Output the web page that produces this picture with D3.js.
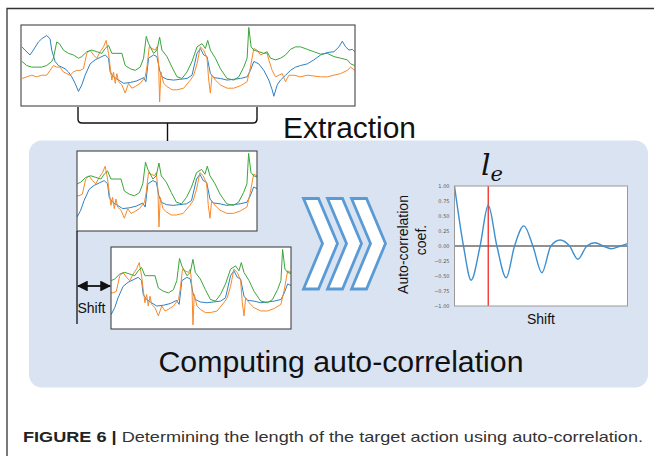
<!DOCTYPE html>
<html>
<head>
<meta charset="utf-8">
<script src="https://cdn.jsdelivr.net/npm/d3@7"></script>
<style>
  body { margin: 0; background: #fff; }
  svg { display: block; font-family: "Liberation Sans", Arial, sans-serif; }
</style>
</head>
<body>
<svg id="fig" width="654" height="456"></svg>
<script>
// sensor traces: [sample, value]
const blueSeries = [[3,73],[12,69],[27,63],[37,69],[52,79],[62,83],[77,87],[87,83],[92,69],[102,55],[112,50],[122,48],[132,46],[142,42],[152,36],[162,28],[172,18],[182,26],[192,38],[207,52],[222,57],[237,60],[252,63],[262,59],[267,42],[277,36],[292,32],[307,28],[327,29],[347,31],[367,35],[374,30],[382,59],[397,63],[407,61],[415,44],[422,36],[437,33],[457,32],[477,33],[497,34],[512,38],[527,65],[537,71],[547,63],[557,61],[567,40],[577,35],[597,34],[617,32],[637,33],[657,34],[677,36],[687,44],[697,55],[712,52],[727,44],[742,32],[752,20],[757,12],[767,26],[777,32],[792,38],[807,44],[822,48],[837,50],[857,52],[877,57],[897,63],[917,66],[937,67],[952,73],[962,80],[972,73],[982,69],[992,70],[999,67]]
const orangeSeries = [[3,34],[17,36],[32,38],[47,36],[62,38],[77,38],[87,44],[97,50],[107,48],[117,48],[127,42],[137,40],[147,38],[157,42],[167,44],[177,44],[187,46],[197,65],[207,69],[217,63],[227,59],[237,67],[247,73],[255,81],[262,65],[267,48],[272,32],[277,42],[282,28],[287,40],[292,30],[302,26],[312,16],[322,28],[332,22],[342,24],[357,28],[372,36],[377,48],[384,73],[392,71],[402,69],[407,73],[412,52],[415,5],[419,42],[427,28],[437,24],[452,20],[467,20],[487,22],[507,32],[517,38],[527,52],[537,73],[547,69],[557,59],[562,32],[567,16],[572,38],[582,32],[597,26],[617,22],[637,22],[657,25],[677,30],[687,48],[697,71],[707,69],[717,63],[727,65],[737,65],[742,57],[752,44],[762,36],[772,38],[782,40],[792,30],[802,38],[817,38],[837,36],[857,38],[877,37],[897,36],[917,36],[937,38],[957,40],[977,44],[987,48],[999,44]]
const greenSeries = [[3,55],[17,50],[32,48],[47,48],[62,48],[77,50],[92,55],[97,59],[107,79],[115,77],[127,69],[142,65],[157,63],[172,59],[182,61],[197,67],[212,69],[227,67],[242,65],[252,71],[262,75],[272,65],[287,65],[302,65],[312,50],[327,46],[342,44],[357,48],[367,59],[375,86],[382,77],[397,65],[407,69],[415,85],[422,69],[437,61],[452,48],[467,36],[482,34],[497,42],[512,55],[527,73],[542,77],[552,71],[559,81],[567,69],[582,59],[597,46],[617,34],[637,32],[652,36],[667,48],[677,59],[682,97],[689,73],[697,69],[712,67],[727,65],[737,67],[747,59],[762,57],[777,59],[792,63],[807,70],[822,73],[837,73],[857,70],[877,67],[897,64],[917,65],[937,61],[957,59],[977,57],[987,52],[999,50]]

const fullRange = [0, 1000]
const extractRange = [171, 707]

// auto-correlation curve: lag, coefficient
const lags = [0, 5.2, 9.6, 14.8, 19.5, 24.5, 29.9, 34.7, 40.1, 45.3, 50.5, 55.7, 61.1, 66.5, 71.3, 76.5, 81.3, 86, 90.6, 95.8, 100]
const coefs = [1.0, 0, -0.57, 0, 0.68, 0, -0.53, 0, 0.335, 0, -0.445, 0, 0.10, 0, -0.22, 0, 0.055, 0, -0.045, 0, 0.04]
const peakLag = 19.5
const yTicks = [1, 0.75, 0.5, 0.25, 0, -0.25, -0.5, -0.75, -1]

const colors = { blue: "#2f80c4", orange: "#f8892a", green: "#3aa63a" }
const series = [
  { name: "blue", data: blueSeries },
  { name: "orange", data: orangeSeries },
  { name: "green", data: greenSeries }
]

const svg = d3.select("#fig")

// outer frame
svg.append("path")
  .attr("d", "M7,456 V8.5 H654")
  .attr("fill", "none")
  .attr("stroke", "#333")
  .attr("stroke-width", 1.3)

// blue panel
svg.append("rect")
  .attr("x", 29).attr("y", 140.5)
  .attr("width", 619).attr("height", 247)
  .attr("rx", 13)
  .attr("fill", "#dae3f2")

let clipId = 0
function signalBox(x, y, w, h, domain) {
  const id = "clip" + (clipId++)
  svg.append("clipPath").attr("id", id)
    .append("rect").attr("x", x).attr("y", y).attr("width", w).attr("height", h)
  svg.append("rect")
    .attr("x", x).attr("y", y).attr("width", w).attr("height", h)
    .attr("fill", "#fff")
  const sx = d3.scaleLinear().domain(domain).range([x, x + w])
  const sy = d3.scaleLinear().domain([0, 100]).range([y + h, y])
  const line = d3.line().x(d => sx(d[0])).y(d => sy(d[1])).curve(d3.curveLinear)
  const g = svg.append("g").attr("clip-path", "url(#" + id + ")")
  series.forEach(s => {
    g.append("path")
      .attr("d", line(s.data))
      .attr("fill", "none")
      .attr("stroke", colors[s.name])
      .attr("stroke-width", 1)
      .attr("stroke-linejoin", "round")
  })
  svg.append("rect")
    .attr("x", x).attr("y", y).attr("width", w).attr("height", h)
    .attr("fill", "none")
    .attr("stroke", "#444")
    .attr("stroke-width", 1.1)
}

signalBox(21, 25, 334, 81, fullRange)

// bracket under the top trace
svg.append("path")
  .attr("d", "M78,107 V119 Q78,123 82,123 H253 Q257,123 257,119 V107 M167.5,123 V141")
  .attr("fill", "none")
  .attr("stroke", "#111")
  .attr("stroke-width", 1.4)

svg.append("text")
  .attr("x", 283).attr("y", 138.3)
  .attr("font-size", 30)
  .attr("textLength", 133)
  .attr("lengthAdjust", "spacingAndGlyphs")
  .attr("fill", "#111")
  .text("Extraction")

signalBox(77, 151, 180, 80, extractRange)
signalBox(111, 247, 180, 82, extractRange)

// shift marker
svg.append("line")
  .attr("x1", 77).attr("x2", 77).attr("y1", 231).attr("y2", 324)
  .attr("stroke", "#111").attr("stroke-width", 1.3)
const defs = svg.append("defs")
defs.append("marker")
  .attr("id", "ah").attr("viewBox", "0 0 10 10")
  .attr("refX", 9).attr("refY", 5)
  .attr("markerWidth", 6).attr("markerHeight", 6)
  .attr("orient", "auto-start-reverse")
  .append("path").attr("d", "M0,0 L10,5 L0,10 z").attr("fill", "#111")
svg.append("line")
  .attr("x1", 78).attr("x2", 110).attr("y1", 286).attr("y2", 286)
  .attr("stroke", "#111").attr("stroke-width", 1.8)
  .attr("marker-start", "url(#ah)").attr("marker-end", "url(#ah)")
svg.append("text")
  .attr("x", 77.5).attr("y", 312.5)
  .attr("font-size", 14)
  .attr("fill", "#111")
  .text("Shift")

// chevrons
d3.range(3).forEach(i => {
  const x0 = 303.5 + 24 * i, top = 198.5, bot = 289, mid = 243.5
  svg.append("polygon")
    .attr("points", [[x0, top], [x0 + 15, top], [x0 + 34, mid], [x0 + 15, bot], [x0, bot], [x0 + 19, mid]].join(" "))
    .attr("fill", "#fff")
    .attr("stroke", "#5b9bd5")
    .attr("stroke-width", 2.8)
})

// auto-correlation plot
const px0 = 454.5, px1 = 627.5, py0 = 186, py1 = 306
const ax = d3.scaleLinear().domain([0, 100]).range([px0, px1])
const ay = d3.scaleLinear().domain([-1, 1]).range([py1, py0])

svg.append("rect")
  .attr("x", px0).attr("y", py0).attr("width", px1 - px0).attr("height", py1 - py0)
  .attr("fill", "#fff")

const yAxis = svg.append("g")
  .attr("transform", `translate(${px0},0)`)
  .call(d3.axisLeft(ay).tickValues(yTicks).tickSize(0).tickPadding(5).tickFormat(d3.format(".2f")))
yAxis.select(".domain").remove()
yAxis.selectAll("text").attr("font-size", 5).attr("fill", "#555").attr("font-family", "DejaVu Sans")

svg.append("line")
  .attr("x1", px0).attr("x2", px1).attr("y1", ay(0)).attr("y2", ay(0))
  .attr("stroke", "#222").attr("stroke-width", 1)

svg.append("line")
  .attr("x1", ax(peakLag)).attr("x2", ax(peakLag)).attr("y1", py0).attr("y2", py1)
  .attr("stroke", "#ee2a24").attr("stroke-width", 1.3)

const acLine = d3.line()
  .x((d, i) => ax(lags[i]))
  .y(d => ay(d))
  .curve(d3.curveMonotoneX)
svg.append("path")
  .attr("d", acLine(coefs))
  .attr("fill", "none")
  .attr("stroke", "#3d8fcf")
  .attr("stroke-width", 1.4)

svg.append("rect")
  .attr("x", px0).attr("y", py0).attr("width", px1 - px0).attr("height", py1 - py0)
  .attr("fill", "none")
  .attr("stroke", "#9a9a9a")
  .attr("stroke-width", 1)

const le = svg.append("text")
  .attr("x", 481).attr("y", 175)
  .attr("font-family", "DejaVu Serif")
  .attr("font-style", "italic")
  .attr("fill", "#111")
le.append("tspan").attr("font-size", 30).text("l")
le.append("tspan").attr("font-size", 21).attr("dy", 6).text("e")

svg.append("text")
  .attr("transform", "translate(407.5,244.5) rotate(-90)")
  .attr("text-anchor", "middle")
  .attr("font-size", 14)
  .attr("fill", "#111")
  .text("Auto-correlation")
svg.append("text")
  .attr("transform", "translate(425.5,240) rotate(-90)")
  .attr("text-anchor", "middle")
  .attr("font-size", 14)
  .attr("fill", "#111")
  .text("coef.")

svg.append("text")
  .attr("x", 541).attr("y", 323.5)
  .attr("text-anchor", "middle")
  .attr("font-size", 14)
  .attr("fill", "#111")
  .text("Shift")

svg.append("text")
  .attr("x", 341).attr("y", 372)
  .attr("text-anchor", "middle")
  .attr("font-size", 30)
  .attr("textLength", 365)
  .attr("lengthAdjust", "spacingAndGlyphs")
  .attr("fill", "#111")
  .text("Computing auto-correlation")

// caption
const cap = svg.append("text")
  .attr("x", 23).attr("y", 442)
  .attr("font-size", 14.5)
  .attr("textLength", 620)
  .attr("lengthAdjust", "spacingAndGlyphs")
cap.append("tspan").attr("font-weight", "bold").attr("fill", "#222").text("FIGURE 6 | ")
cap.append("tspan").attr("fill", "#333").text("Determining the length of the target action using auto-correlation.")
</script>
</body>
</html>
